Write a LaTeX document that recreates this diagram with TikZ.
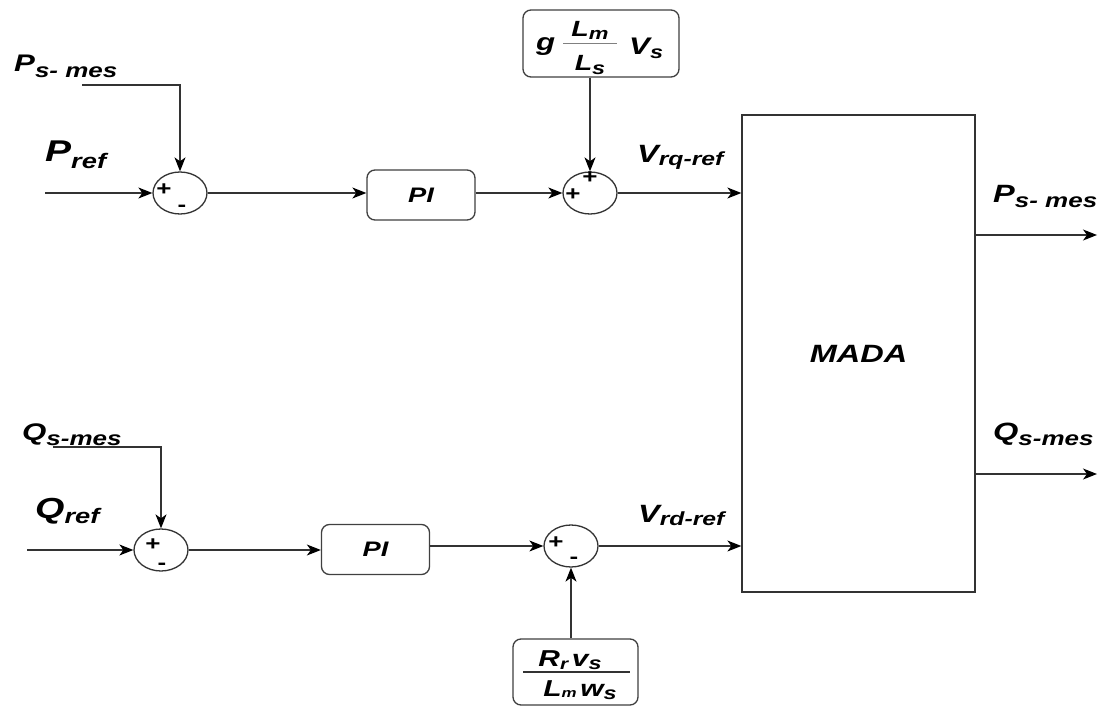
\documentclass[tikz,border=0pt]{standalone}
\usepackage{fontspec}
\newfontfamily\lf{Liberation Sans}[FakeStretch=1.3]
\usetikzlibrary{shapes.geometric,arrows.meta}
\newcommand\fs[1]{\fontsize{#1}{#1}\selectfont}
\newcommand\lbl[5]{{\fs{#1}#2\raisebox{-#5pt}{\fs{#3}#4}}}
\begin{document}
\begin{tikzpicture}[x=1pt,y=-1pt,
  every node/.style={font=\lf\bfseries\itshape},
  ln/.style={line width=1.2pt,draw=black!80},
  arr/.style={ln,-{Stealth[length=14pt,width=11pt,inset=4pt,color=black,fill=black]}},
  sumj/.style={ellipse,draw=black!80,line width=1.3pt,minimum width=54pt,minimum height=42pt,inner sep=0},
  blk/.style={draw=black!75,line width=1.3pt,rounded corners=8pt,inner sep=0},
  pibox/.style={blk,minimum width=108pt,minimum height=50pt,font=\lf\bfseries\itshape\fs{21}},
  lab/.style={inner sep=0,anchor=base west},
  sgn/.style={inner sep=0,font=\lf\bfseries\fs{20}}]
\fill[white] (0,0) rectangle (1101,706);
\useasboundingbox (0,0) rectangle (1101,706);

% blocks
\node[sumj] (s1) at (180,193) {};
\node[pibox] (pi1) at (421,195) {PI};
\node[sumj] (s2) at (590,193) {};
\node[blk,minimum width=156pt,minimum height=67pt] (g1) at (601,43.5) {};
\node[draw=black!80,line width=1.3pt,minimum width=233pt,minimum height=477pt,inner sep=0,font=\lf\bfseries\itshape\fs{25}] (mada) at (858.5,353.5) {MADA};
\node[sumj] (s3) at (161,550) {};
\node[pibox] (pi2) at (375.5,549.5) {PI};
\node[sumj] (s4) at (571,546) {};
\node[blk,minimum width=125pt,minimum height=66pt] (g2) at (575.5,672) {};

% contents of gain boxes
\node[lab] (gg) at (536,51) {\fs{24}g};
\node[inner sep=0,anchor=base] (glm) at (590,37) {\lbl{22}{L}{17}{m}{3}};
\draw[gray,line width=0.8pt] (563,43) -- (617,43);
\node[inner sep=0,anchor=base] (gls) at (590,71) {\lbl{22}{L}{18}{s}{4}};
\node[lab] (gvs) at (629,55) {\lbl{24}{V}{18}{s}{4}};
\node[inner sep=0,anchor=base] (rnum) at (570,666) {\fs{23}R\raisebox{-3pt}{\fs{16}r}\,v\raisebox{-3pt}{\fs{18}s}};
\draw[ln] (523,672) -- (630,672);
\node[inner sep=0,anchor=base] (rden) at (580,696) {\fs{23}L\raisebox{-1pt}{\fs{13}m}\,w\raisebox{-3pt}{\fs{18}s}};

% signs
\node[sgn] (s1a) at (164,190) {+};
\node[sgn] (s1b) at (182,208) {-};
\node[sgn] (s2a) at (590,178) {+};
\node[sgn] (s2b) at (573,195) {+};
\node[sgn] (s3a) at (153,545) {+};
\node[sgn] (s3b) at (162,566) {-};
\node[sgn] (s4a) at (556,543) {+};
\node[sgn] (s4b) at (574,560) {-};

% labels
\node[lab] (lps) at (14,72) {\lbl{24}{P}{20}{s- mes}{6}};
\node[lab] (lpr) at (45,162) {\lbl{30}{P}{21}{ref}{6}};
\node[lab] (lvq) at (637,163) {\lbl{25}{V}{19}{rq-ref}{3}};
\node[lab] (lpo) at (993,203) {\lbl{25}{P}{20}{s- mes}{5}};
\node[lab] (lqo) at (993,440) {\lbl{25}{Q}{20}{s-mes}{5}};
\node[lab] (lqm) at (22,440) {\lbl{24}{Q}{20}{s-mes}{5}};
\node[lab] (lqr) at (35,518) {\lbl{29}{Q}{21}{ref}{5}};
\node[lab] (lvd) at (638,522) {\lbl{25}{V}{19}{rd-ref}{3}};

% connectors
\coordinate (pin) at (45,193);
\draw[arr] (pin) -- (s1.west);
\coordinate (pm) at (82,85);
\draw[arr] (pm) -| (s1.north);
\draw[arr] (s1.east) -- (s1.east -| pi1.west);
\draw[arr] (pi1.east |- s2) -- (s2.west);
\draw[arr] (s2.north |- g1.south) -- (s2.north);
\draw[arr] (s2.east) -- (s2.east -| mada.west);
\coordinate (po) at (1097,235);
\draw[arr] (po -| mada.east) -- (po);
\coordinate (qo) at (1097,474);
\draw[arr] (qo -| mada.east) -- (qo);
\coordinate (qin) at (27,550);
\draw[arr] (qin) -- (s3.west);
\coordinate (qm) at (53,447);
\draw[arr] (qm) -| (s3.north);
\draw[arr] (s3.east) -- (s3.east -| pi2.west);
\draw[arr] (pi2.east |- s4) -- (s4.west);
\draw[arr] (s4.south |- g2.north) -- (s4.south);
\draw[arr] (s4.east) -- (s4.east -| mada.west);
\end{tikzpicture}
\end{document}
